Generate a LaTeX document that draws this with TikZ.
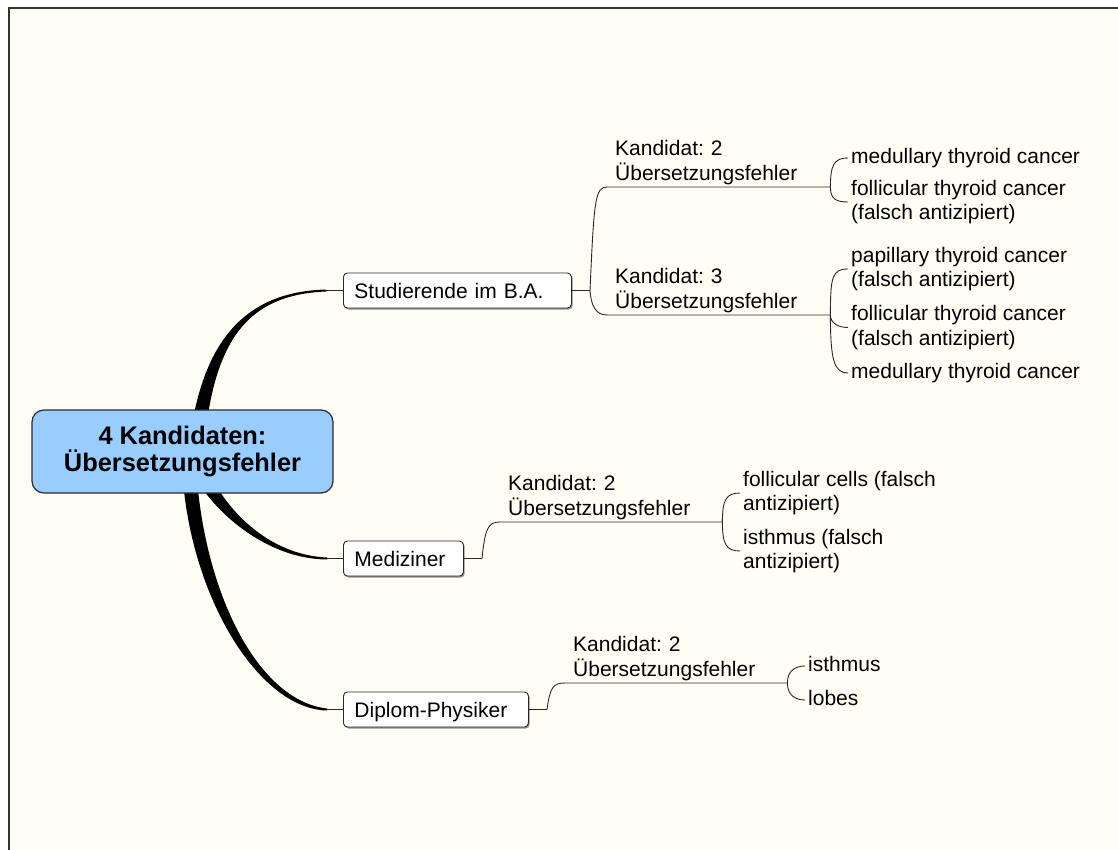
\documentclass[tikz,border=0pt]{standalone}
\usepackage{fontspec}
\setmainfont{Liberation Sans}
\usetikzlibrary{shadows}
\definecolor{bg}{RGB}{255,254,245}
\definecolor{rootfill}{RGB}{153,204,255}
\definecolor{edge}{RGB}{40,40,40}
\pgfdeclarelayer{background}
\pgfsetlayers{background,main}
\frenchspacing
\begin{document}
\frenchspacing
\begin{tikzpicture}[x=1pt,y=-1pt,
 txt/.style={font=\fontsize{21}{24.5}\selectfont\frenchspacing, text=black},
 rootbox/.style={draw=edge, line width=1.2pt, fill=rootfill, rounded corners=12pt,
   minimum width=301pt, minimum height=83pt, align=center,
   font=\fontsize{25.4}{27}\selectfont\bfseries\frenchspacing, inner sep=0pt},
 branchbox/.style={txt, draw=edge, line width=0.9pt, fill=white, rounded corners=4pt,
   minimum height=35pt, inner xsep=11pt, inner ysep=0pt, align=left,
   text height=15.2pt, text depth=0pt, anchor=west,
   drop shadow={shadow xshift=1.2pt, shadow yshift=-1.5pt, fill=black!45, opacity=1}},
 cand/.style={txt, align=left, inner xsep=8pt, inner ysep=2pt, anchor=south west},
 leaf/.style={txt, align=left, inner xsep=3pt, inner ysep=0pt, anchor=west},
 oneline/.style={text height=15.2pt, text depth=4.4pt},
 link/.style={draw=edge, line width=0.9pt},
 taper/.style={fill=black}
]
\useasboundingbox (0,0) rectangle (1118,850);

% nodes
\node[rootbox] (root) at (182.5,451.5) {4 Kandidaten:\\Übersetzungsfehler};

\node[branchbox, text width=206pt] (stud) at (343,290.5) {Studierende im B.A.};
\node[branchbox, text width=98pt] (med) at (343,558.5) {Mediziner};
\node[branchbox, text width=163pt] (dip) at (343,709.5) {Diplom-Physiker};

\node[cand, text width=207pt] (k1) at (607,187) {Kandidat: 2\\Übersetzungsfehler};
\node[cand, text width=207pt] (k2) at (607,315) {Kandidat: 3\\Übersetzungsfehler};
\node[cand, text width=206pt] (k3) at (500,522) {Kandidat: 2\\Übersetzungsfehler};
\node[cand, text width=206pt] (k4) at (565,683) {Kandidat: 2\\Übersetzungsfehler};

\node[leaf, oneline] (a1) at (848,158) {medullary thyroid cancer};
\node[leaf] (a2) at (848,202) {follicular thyroid cancer\\(falsch antizipiert)};
\node[leaf] (b1) at (848,269) {papillary thyroid cancer\\(falsch antizipiert)};
\node[leaf] (b2) at (848,327.5) {follicular thyroid cancer\\(falsch antizipiert)};
\node[leaf, oneline] (b3) at (848,373) {medullary thyroid cancer};
\node[leaf] (c1) at (740,493) {follicular cells (falsch\\antizipiert)};
\node[leaf] (c2) at (740,551) {isthmus (falsch\\antizipiert)};
\node[leaf, oneline] (d1) at (805,666) {isthmus};
\node[leaf, oneline] (d2) at (805,700) {lobes};

% coordinates
\coordinate (cs) at (326,290.5);
\coordinate (cm) at (327,558.5);
\coordinate (cd) at (327,709.5);
\coordinate (js) at (590,290.5);
\coordinate (jm) at (482,558.5);
\coordinate (jd) at (547,709.5);

% background: frame and tapered main branches
\begin{pgfonlayer}{background}
\fill[white] (0,0) rectangle (1118,850);
\fill[bg] (9,8) rectangle (1118,850);
\draw[line width=1.6pt, black!80] (9,850) -- (9,8) -- (1118,8);
\fill[taper] (193,419) .. controls (210,329) and (255,291.5) .. (326,289.5)
  -- (326,291.5) .. controls (255,294.5) and (220,331) .. (207,421) -- cycle;
\fill[taper] (211,476.5) .. controls (229.3,512.5) and (270,555) .. (327,557.5)
  -- (327,559.5) .. controls (270,559) and (220.7,517.5) .. (199,483.5) -- cycle;
\fill[taper] (197,479.4) .. controls (207,599) and (260,701) .. (327,708.5)
  -- (327,710.5) .. controls (260,709) and (193,601) .. (183,480.6) -- cycle;
\end{pgfonlayer}

% connectors root level
\draw[link] (cs) -- (stud.west);
\draw[link] (cm) -- (med.west);
\draw[link] (cd) -- (dip.west);

% Studierende
\draw[link] (stud.east) -- (js);
\draw[link] (js) .. controls +(4,-90) and +(-12,0) .. (k1.south west) -- (k1.south east);
\draw[link] (js) .. controls +(1,14) and +(-12,0) .. (k2.south west) -- (k2.south east);
\draw[link] (k1.south east) .. controls +(0,-22) and +(-14,0) .. (a1.west);
\draw[link] (k1.south east) .. controls +(0,12) and +(-12,0) .. (a2.west);
\draw[link] (k2.south east) .. controls +(0,-38) and +(-16,0) .. (b1.west);
\draw[link] (k2.south east) .. controls +(0,8) and +(-10,0) .. (b2.west);
\draw[link] (k2.south east) .. controls +(0,45) and +(-14,0) .. (b3.west);

% Mediziner
\draw[link] (med.east) -- (jm);
\draw[link] (jm) .. controls +(3,-30) and +(-12,0) .. (k3.south west) -- (k3.south east);
\draw[link] (k3.south east) .. controls +(0,-22) and +(-14,0) .. (c1.west);
\draw[link] (k3.south east) .. controls +(0,22) and +(-14,0) .. (c2.west);

% Diplom-Physiker
\draw[link] (dip.east) -- (jd);
\draw[link] (jd) .. controls +(3,-22) and +(-12,0) .. (k4.south west) -- (k4.south east);
\draw[link] (k4.south east) .. controls +(0,-12) and +(-10,0) .. (d1.west);
\draw[link] (k4.south east) .. controls +(0,12) and +(-10,0) .. (d2.west);
\end{tikzpicture}
\end{document}
